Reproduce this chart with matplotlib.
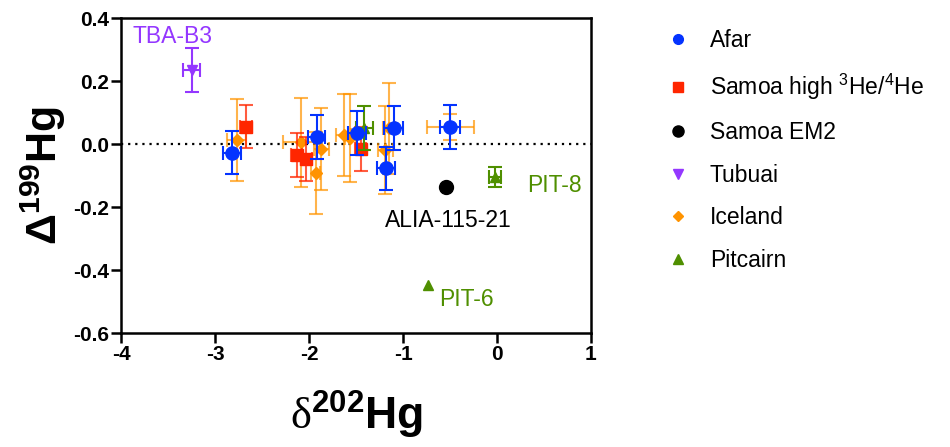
import numpy as np
import matplotlib
matplotlib.use("Agg")
import matplotlib.pyplot as plt
from matplotlib.lines import Line2D

plt.rcParams['font.family'] = ['Liberation Sans', 'DejaVu Sans']
plt.rcParams['axes.unicode_minus'] = False
plt.rcParams['mathtext.fontset'] = 'custom'
plt.rcParams['mathtext.rm'] = 'Liberation Serif'
plt.rcParams['mathtext.bf'] = 'Liberation Sans:bold'
plt.rcParams['mathtext.sf'] = 'Liberation Sans'

# Afar
afar_x = [-2.82, -1.92, -1.49, -1.10, -1.18, -0.50]
afar_y = [-0.027, 0.023, 0.034, 0.052, -0.077, 0.054]
afar_xerr = [0.10, 0.09, 0.10, 0.10, 0.10, 0.11]
afar_yerr = [0.068, 0.07, 0.07, 0.07, 0.068, 0.07]

# Samoa high 3He/4He
samoa_x = [-2.67, -2.13, -2.03, -1.45]
samoa_y = [0.055, -0.036, -0.048, -0.016]
samoa_xerr = [0.06, 0.06, 0.06, 0.06]
samoa_yerr = [0.068, 0.07, 0.07, 0.07]

# Samoa EM2
em2_x = [-0.54]
em2_y = [-0.137]

# Tubuai
tub_x = [-3.25]
tub_y = [0.235]
tub_xerr = [0.09]
tub_yerr = [0.07]

# Iceland
ice_x = [-2.77, -2.08, -1.87, -1.93, -1.63, -1.56, -1.19, -1.15, -0.50]
ice_y = [0.013, 0.005, -0.016, -0.093, 0.028, 0.02, -0.02, 0.05, 0.054]
ice_xerr = [0.10, 0.20, 0.08, 0.05, 0.08, 0.06, 0.08, 0.06, 0.25]
ice_yerr = [0.13, 0.14, 0.13, 0.13, 0.13, 0.14, 0.14, 0.145, 0.04]

# Pitcairn (PIT-6 has no error bars)
pit_x = [-1.41, -0.02]
pit_y = [0.05, -0.105]
pit_xerr = [0.09, 0.065]
pit_yerr = [0.07, 0.033]
pit6_x = [-0.73]
pit6_y = [-0.447]

c_afar = '#0433FF'
c_samoa = '#FF2600'
c_em2 = '#000000'
c_tub = '#9437FF'
c_ice = '#FF9300'
c_pit = '#4F8F00'

fig = plt.figure(figsize=(9.5, 4.47), dpi=100)
ax = fig.add_axes([0.1274, 0.255, 0.4947, 0.7047])

ax.axhline(0, color='k', lw=1.6, ls=(0, (1, 2.2)), zorder=1)

eb = dict(ls='none', capsize=5, elinewidth=1.5, capthick=1.5)
ax.errorbar(ice_x, ice_y, xerr=ice_xerr, yerr=ice_yerr, fmt='D', ms=6,
            color=c_ice, ecolor=(1.0, 0.58, 0.0, 0.7), zorder=2, **eb)
ax.errorbar(samoa_x, samoa_y, xerr=samoa_xerr, yerr=samoa_yerr, fmt='s', ms=9,
            color=c_samoa, ecolor=(1.0, 0.15, 0.0, 0.75), zorder=3, **eb)
ax.errorbar(pit_x, pit_y, xerr=pit_xerr, yerr=pit_yerr, fmt='^', ms=7,
            color=c_pit, ecolor=c_pit, zorder=4, **eb)
ax.plot(pit6_x, pit6_y, '^', ms=7, color=c_pit, zorder=4)
ax.errorbar(afar_x, afar_y, xerr=afar_xerr, yerr=afar_yerr, fmt='o', ms=9.5,
            color=c_afar, ecolor=c_afar, zorder=5, **eb)
ax.errorbar(tub_x, tub_y, xerr=tub_xerr, yerr=tub_yerr, fmt='v', ms=7,
            color=c_tub, ecolor=c_tub, zorder=5, **eb)
ax.plot(em2_x, em2_y, 'o', ms=10, color=c_em2, zorder=6)

# sample labels
ax.text(-3.45, 0.34, 'TBA-B3', color=c_tub, fontsize=16.5, ha='center', va='center')
ax.text(-0.52, -0.244, 'ALIA-115-21', color='k', fontsize=16.5, ha='center', va='center')
ax.text(0.61, -0.133, 'PIT-8', color=c_pit, fontsize=16.5, ha='center', va='center')
ax.text(-0.32, -0.495, 'PIT-6', color=c_pit, fontsize=16.5, ha='center', va='center')

ax.set_xlim(-4, 1)
ax.set_ylim(-0.6, 0.4)
ax.set_xticks(np.arange(-4, 2, 1))
ax.set_yticks(np.arange(-0.6, 0.41, 0.2))
ax.set_xticklabels(['-4', '-3', '-2', '-1', '0', '1'])
ax.set_yticklabels(['-0.6', '-0.4', '-0.2', '0.0', '0.2', '0.4'])
for sp in ax.spines.values():
    sp.set_linewidth(1.8)
ax.tick_params(axis='both', direction='out', length=7, width=1.8, pad=1.5,
               labelsize=15)
for lab in ax.get_xticklabels() + ax.get_yticklabels():
    lab.set_fontweight('bold')

ax.set_xlabel(r'$\mathrm{δ}^{\mathbf{202}}\mathbf{Hg}$', fontsize=32, labelpad=18)
ax.set_ylabel(r'$\mathbf{Δ}^{\mathbf{199}}\mathbf{Hg}$', fontsize=31, labelpad=4)

handles = [
    Line2D([], [], ls='none', marker='o', ms=7, color=c_afar),
    Line2D([], [], ls='none', marker='s', ms=7, color=c_samoa),
    Line2D([], [], ls='none', marker='o', ms=8, color=c_em2),
    Line2D([], [], ls='none', marker='v', ms=6.5, color=c_tub),
    Line2D([], [], ls='none', marker='D', ms=5, color=c_ice),
    Line2D([], [], ls='none', marker='^', ms=6.5, color=c_pit),
]
labels = ['Afar', r'Samoa high $^{\mathsf{3}}$He/$^{\mathsf{4}}$He', 'Samoa EM2',
          'Tubuai', 'Iceland', 'Pitcairn']
fig.legend(handles, labels, loc='upper left', bbox_to_anchor=(0.687, 0.96),
           frameon=False, fontsize=16.5, handlelength=1.2, handletextpad=0.8,
           labelspacing=0.85, borderpad=0)

fig.savefig('out.png', dpi=100)
